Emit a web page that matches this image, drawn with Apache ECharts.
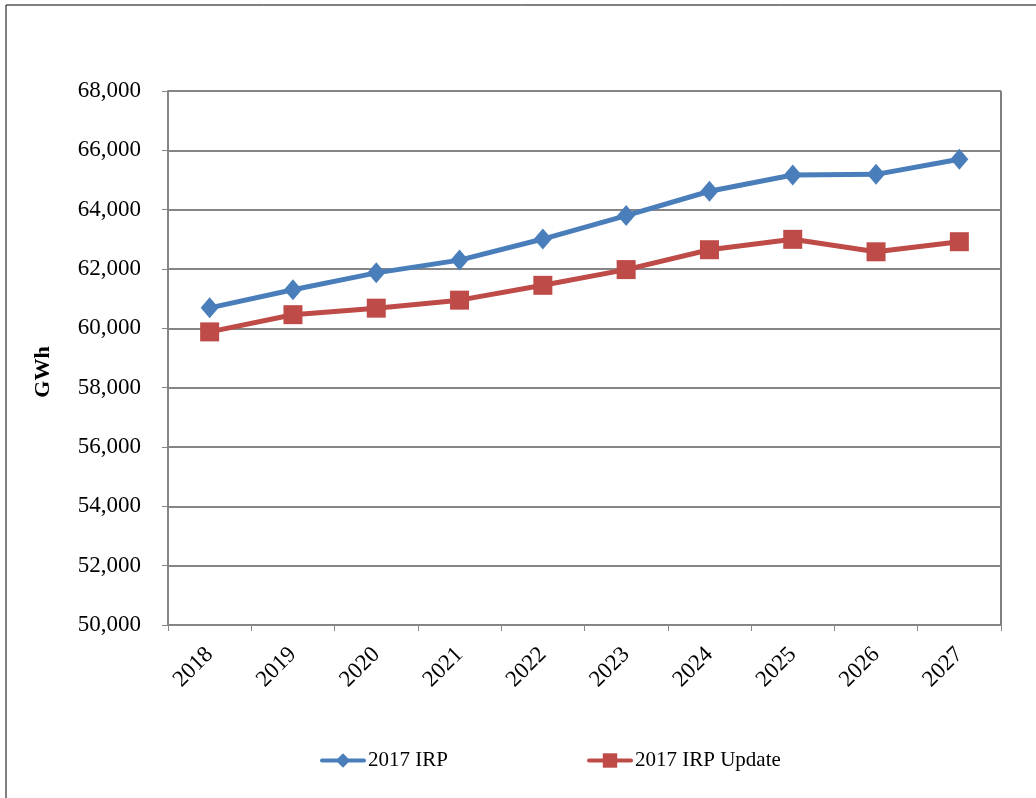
<!DOCTYPE html>
<html>
<head>
<meta charset="utf-8">
<script src="https://cdn.jsdelivr.net/npm/echarts@6/dist/echarts.min.js"></script>
<style>
html,body{margin:0;padding:0;background:#fff;}
#box{width:1036px;height:798px;}
</style>
</head>
<body>
<div id="box"></div>
<script>
// data
var years = ['2018','2019','2020','2021','2022','2023','2024','2025','2026','2027'];
var irp2017 = [60690, 61300, 61870, 62300, 63010, 63800, 64620, 65170, 65190, 65700];
var irpUpdate = [59880, 60460, 60680, 60950, 61450, 61980, 62650, 63000, 62580, 62920];

var serif = '"Liberation Serif", "DejaVu Serif", serif';

var chart = echarts.init(document.getElementById('box'));
var option = {
    backgroundColor: '#fff',
    animation: false,
    graphic: [
        {
            type: 'rect',
            shape: { x: 6, y: 5, width: 1040, height: 800 },
            style: { fill: 'none', stroke: '#000', lineWidth: 1 }
        },
        {
            type: 'text',
            x: 43,
            y: 372,
            rotation: Math.PI / 2,
            style: { text: 'GWh', font: 'bold 22px ' + serif, fill: '#000', align: 'center', verticalAlign: 'middle' }
        }
    ],
    legend: [
        {
            left: 320,
            top: 750,
            padding: 0,
            itemWidth: 42,
            itemHeight: 18,
            itemGap: 4,
            lineStyle: { width: 4, cap: 'round' },
            textStyle: { fontFamily: serif, fontSize: 21, color: '#000', padding: [0,0,0,-1] },
            data: ['2017 IRP']
        },
        {
            left: 587,
            top: 750,
            padding: 0,
            itemWidth: 42,
            itemHeight: 18,
            itemGap: 4,
            lineStyle: { width: 4, cap: 'round' },
            textStyle: { fontFamily: serif, fontSize: 21, color: '#000', padding: [0,0,0,-1] },
            data: ['2017 IRP Update']
        }
    ],
    grid: {
        left: 168,
        right: 35,
        top: 91,
        bottom: 173,
        show: true,
        borderColor: '#000',
        borderWidth: 1
    },
    xAxis: {
        type: 'category',
        data: years,
        boundaryGap: true,
        axisLine: { lineStyle: { color: '#868686', width: 2 } },
        axisTick: { show: true, length: 6, lineStyle: { color: '#868686' } },
        axisLabel: { rotate: 45, fontFamily: serif, fontSize: 23, color: '#000', margin: 26 },
        splitLine: { show: false }
    },
    yAxis: {
        type: 'value',
        min: 50000,
        max: 68000,
        interval: 2000,
        axisLine: { show: true, lineStyle: { color: '#868686', width: 2 } },
        axisTick: { show: true, length: 6, lineStyle: { color: '#868686' } },
        axisLabel: {
            fontFamily: serif, fontSize: 23, color: '#000', margin: 27,
            formatter: function (v) { return v.toLocaleString('en-US'); }
        },
        splitLine: { show: true, lineStyle: { color: '#868686', width: 2 } }
    },
    series: [
        {
            name: '2017 IRP',
            type: 'line',
            data: irp2017,
            symbol: 'diamond',
            symbolSize: [18, 21],
            lineStyle: { color: '#4a7ebb', width: 5 },
            itemStyle: { color: '#4a7ebb' }
        },
        {
            name: '2017 IRP Update',
            type: 'line',
            data: irpUpdate,
            symbol: 'rect',
            symbolSize: 19,
            lineStyle: { color: '#be4b48', width: 5 },
            itemStyle: { color: '#be4b48' }
        }
    ]
};
chart.setOption(option);
</script>
</body>
</html>
